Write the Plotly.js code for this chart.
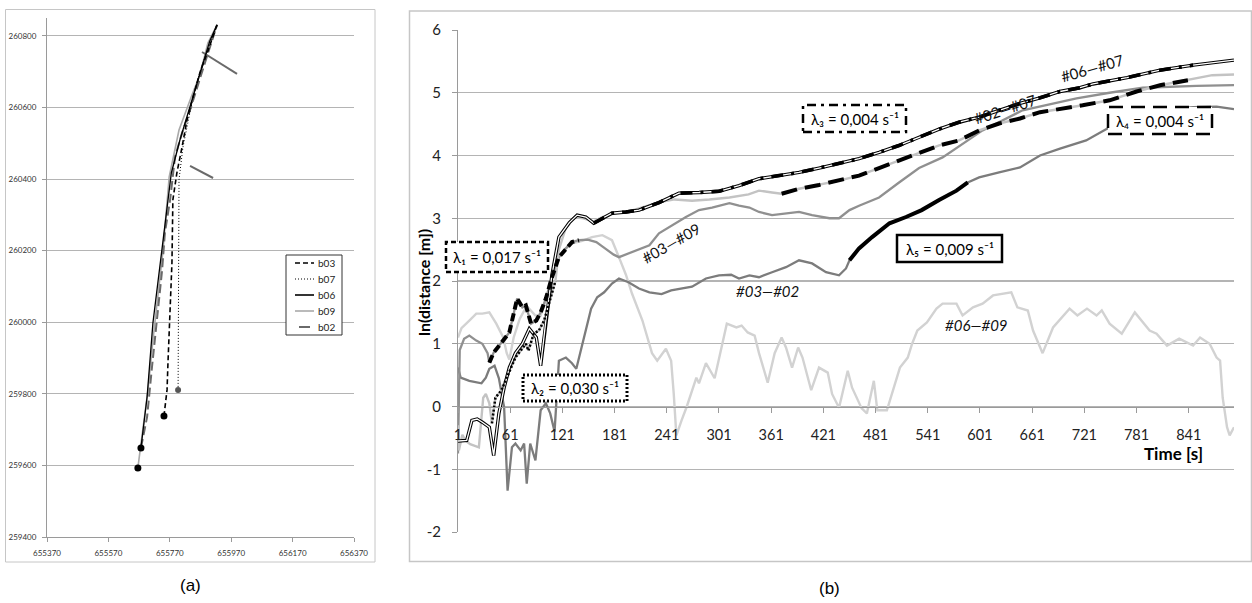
<!DOCTYPE html>
<html><head><meta charset="utf-8">
<script src="https://cdn.plot.ly/plotly-3.0.1.min.js"></script>
<style>html,body{margin:0;padding:0;background:#fff}#chart{width:1252px;height:603px}</style>
</head><body><div id="chart"></div>
<script>
// ================= (a) trajectories (Easting / Northing) =================
const a_xticks = [655370, 655570, 655770, 655970, 656170, 656370];
const a_yticks = [259400, 259600, 259800, 260000, 260200, 260400, 260600, 260800];
const b03_x = [655751,655761,655764,655771,655777,655780,655793,655810,655826,655846,655868,655895,655924];
const b03_y = [259738,259811,259886,260026,260166,260342,260417,260490,260565,260630,260697,260760,260831];
const b07_x = [655797,655798,655800,655813,655826,655842,655858,655875,655898,655924];
const b07_y = [259811,260100,260398,260490,260546,260613,260669,260719,260770,260831];
const b06_x = [655676,655696,655715,655731,655748,655775,655803,655836,655862,655878,655900,655924];
const b06_y = [259649,259791,259998,260110,260220,260417,260509,260602,260677,260727,260785,260831];
const b09_x = [655666,655683,655699,655715,655732,655748,655768,655800,655840,655868,655894,655924];
const b09_y = [259593,259699,259811,259950,260071,260202,260406,260537,260630,260691,260780,260831];
const b02_x = [655676,655696,655712,655728,655745,655754,655771,655787,655810,655836,655868,655890,655924];
const b02_y = [259649,259735,259875,260006,260146,260250,260342,260462,260529,260593,260677,260740,260831];
const b02o_x = [655875,655989,null,655836,655911];
const b02o_y = [260755,260694,null,260437,260403];
const start_x = [655666,655676,655751];
const start_y = [259593,259649,259738];
const start7_x = [655797];
const start7_y = [259811];

// ================= (b) ln(distance) vs time =================
const b_xticks = [1,61,121,181,241,301,361,421,481,541,601,661,721,781,841];
const b_yticks = [-2,-1,0,1,2,3,4,5,6];

const t0607 = [1,11,17,23,29,37,42,48,54,60,67,75,83,91,96,102,109,117,129,138,148,157,167,178,194,209,232,255,278,301,324,347,370,393,416,439,462,485,508,531,554,577,600,623,647,670,693,716,731,770,808,846,893];
const d0607 = [-0.55,-0.54,-0.22,-0.2,-0.25,-0.33,-0.78,-0.11,0.3,0.62,0.85,1.0,1.24,1.1,0.65,1.37,2.1,2.7,2.93,3.05,3.02,2.92,3.0,3.08,3.1,3.13,3.25,3.4,3.41,3.43,3.52,3.63,3.68,3.73,3.8,3.87,3.95,4.05,4.16,4.29,4.42,4.53,4.61,4.72,4.83,4.92,5.02,5.08,5.14,5.24,5.36,5.44,5.52];

const t0207 = [1,2,6,10,15,20,25,30,33,37,40,44,51,60,67,79,82,88,94,100,108,113,117,125,135,145,157,167,180,195,212,230,250,270,290,313,335,347,362,373,393,416,428,439,462,485,508,531,554,577,600,623,647,670,693,719,750,781,808,840,868,893];
const d0207 = [-0.3,-0.7,-0.45,-0.55,-0.6,-0.62,-0.65,0.14,0.2,0.05,-0.27,0.14,0.26,0.57,0.78,1.0,0.89,1.16,1.21,1.37,1.74,2.0,2.5,2.85,3.02,3.0,2.95,3.02,3.08,3.1,3.17,3.25,3.3,3.28,3.3,3.33,3.38,3.44,3.41,3.39,3.47,3.53,3.57,3.6,3.68,3.8,3.92,4.05,4.16,4.24,4.4,4.51,4.59,4.69,4.74,4.8,4.88,5.02,5.12,5.2,5.28,5.29];

const t0609 = [1,5,14,22,29,37,45,53,57,60,65,72,80,90,96,102,109,117,125,132,144,155,167,178,186,194,201,213,224,230,240,246,249,252,258,264,275,278,286,296,310,321,327,334,342,347,357,365,373,378,385,392,397,407,416,426,431,439,449,454,465,471,479,483,494,500,509,518,523,529,540,551,558,574,581,593,604,616,627,637,644,656,662,673,685,704,713,724,735,741,750,764,779,796,804,816,830,846,854,865,873,877,880,885,888,893];
const d0609 = [1.1,1.25,1.37,1.48,1.48,1.5,1.32,1.1,0.85,0.75,1.1,1.4,1.6,1.45,1.45,1.7,2.05,2.38,2.52,2.6,2.64,2.7,2.73,2.65,2.38,2.1,1.8,1.37,0.85,0.73,0.92,0.73,0.2,-0.46,-0.22,0.0,0.46,0.37,0.69,0.45,1.32,1.26,1.29,1.18,1.13,0.85,0.38,0.85,1.1,0.94,0.62,0.94,0.78,0.26,0.62,0.54,0.2,-0.02,0.57,0.3,-0.03,-0.11,0.41,-0.06,-0.06,0.2,0.62,0.78,1.0,1.21,1.34,1.56,1.64,1.64,1.45,1.58,1.64,1.77,1.8,1.82,1.58,1.53,1.21,0.85,1.26,1.56,1.45,1.56,1.45,1.53,1.32,1.16,1.5,1.21,1.16,0.97,1.08,0.97,1.1,1.0,0.78,0.73,0.14,-0.33,-0.46,-0.33];

const t0302 = [1,4,14,28,33,37,43,48,54,58,63,67,73,77,80,84,90,96,102,107,112,117,125,132,137,143,149,154,161,169,178,186,197,209,221,235,246,259,270,286,301,315,324,336,347,362,378,393,408,424,439,447,451,462,477,497,516,534,554,574,587,600,623,647,670,693,723,750,770,808,846,873,893];
const d0302 = [0.62,0.46,0.41,0.37,0.46,0.6,0.65,0.45,-0.01,-1.34,-0.65,-0.59,-0.7,-0.59,-1.23,-0.59,-0.86,-0.06,0.05,-0.11,-0.4,0.73,0.78,0.69,0.6,0.94,1.32,1.56,1.74,1.82,1.96,2.04,1.98,1.88,1.82,1.79,1.85,1.88,1.91,2.04,2.09,2.1,2.04,2.09,2.06,2.14,2.22,2.33,2.28,2.14,2.09,2.2,2.33,2.52,2.7,2.92,3.02,3.13,3.29,3.44,3.57,3.65,3.73,3.81,4.0,4.11,4.24,4.45,4.59,4.72,4.77,4.78,4.74];

const t0309 = [1,3,8,14,22,29,35,37,42,50,60,69,75,79,85,91,96,102,109,117,125,132,140,150,160,170,180,186,201,221,232,247,263,278,293,313,324,336,347,362,378,393,408,428,439,451,462,485,508,531,558,578,604,650,712,750,788,850,893];
const d0309 = [-0.75,0.9,1.08,1.13,1.05,1.0,0.85,0.7,0.86,1.0,1.18,1.72,1.58,1.61,1.32,1.37,1.5,1.72,2.06,2.38,2.52,2.62,2.65,2.66,2.62,2.52,2.42,2.38,2.46,2.57,2.76,2.89,3.02,3.13,3.17,3.24,3.2,3.17,3.1,3.05,3.08,3.1,3.05,3.0,3.0,3.13,3.2,3.33,3.57,3.8,3.97,4.16,4.4,4.72,4.91,5.0,5.08,5.11,5.12];

// fitted-rate segments (time windows on the curves)
const lam1 = [37, 140];   // on #03—#09
const lam2 = [40, 113];   // on #02—#07
const lam3 = [152, 853];  // on #06—#07
const lam4 = [373, 840];  // on #02—#07
const lam5 = [451, 587];  // on #03—#02

const labels = ['#06—#07','#02—#07','#03—#09','#03—#02','#06—#09'];
const lamText = ['λ₁ = 0,017 s⁻¹','λ₂ = 0,030 s⁻¹','λ₃ = 0,004 s⁻¹','λ₄ = 0,004 s⁻¹','λ₅ = 0,009 s⁻¹'];

// ---------------- helpers ----------------
const W = 1252, H = 603;
const PX = p => p / W, PY = p => 1 - p / H;
function seg(xs, ys, r) {
  const ox = [], oy = [];
  xs.forEach((x, i) => { if (x >= r[0] && x <= r[1]) { ox.push(x); oy.push(ys[i]); } });
  return [ox, oy];
}
const FONT = 'Lato, "Open Sans", "DejaVu Sans", sans-serif';

const traces = [];
function addA(x, y, color, width, dash) {
  traces.push({x, y, type: 'scatter', mode: 'lines', xaxis: 'x', yaxis: 'y', showlegend: false,
    line: {color, width, dash}, hoverinfo: 'skip'});
}
addA(b09_x, b09_y, '#a9a9a9', 1.6, 'solid');
addA(b02_x, b02_y, '#6a6a6a', 2, '9px,4px');
addA(b02o_x, b02o_y, '#6a6a6a', 2, 'solid');
addA(b06_x, b06_y, '#000000', 1.3, 'solid');
addA(b03_x, b03_y, '#000000', 1.6, '5px,3px');
addA(b07_x, b07_y, '#000000', 1, '1px,2px');
traces.push({x: start_x, y: start_y, type: 'scatter', mode: 'markers', xaxis: 'x', yaxis: 'y', showlegend: false,
  marker: {color: '#000', size: 7}, hoverinfo: 'skip'});
traces.push({x: start7_x, y: start7_y, type: 'scatter', mode: 'markers', xaxis: 'x', yaxis: 'y', showlegend: false,
  marker: {color: '#555', size: 6}, hoverinfo: 'skip'});

function addB(x, y, color, width, dash) {
  traces.push({x, y, type: 'scatter', mode: 'lines', xaxis: 'x2', yaxis: 'y2', showlegend: false,
    line: {color, width, dash: dash || 'solid'}, hoverinfo: 'skip'});
}
addB(t0609, d0609, '#d2d2d2', 2.4);
addB(t0302, d0302, '#7c7c7c', 2.3);
addB(t0309, d0309, '#909090', 2.3);
addB(t0207, d0207, '#c3c3c3', 2.4);
addB(t0607, d0607, '#000000', 3.4);
addB(t0607, d0607, '#ffffff', 1.3);
let s;
s = seg(t0309, d0309, lam1); addB(s[0], s[1], '#000', 4, '8px,4px');
s = seg(t0207, d0207, lam2); addB(s[0], s[1], '#000', 2.5, '2px,2px');
s = seg(t0607, d0607, lam3); addB(s[0], s[1], '#000', 3.6, '12px,8px,3px,8px');
s = seg(t0207, d0207, lam4); addB(s[0], s[1], '#000', 4, '16px,8px');
s = seg(t0302, d0302, lam5); addB(s[0], s[1], '#000', 4);

// ---------------- shapes & annotations ----------------
const shapes = [
  {type: 'rect', xref: 'paper', yref: 'paper', x0: PX(5.5), x1: PX(375), y0: PY(562), y1: PY(9.5), line: {color: '#c6c6c6', width: 1}, layer: 'below'},
  {type: 'rect', xref: 'paper', yref: 'paper', x0: PX(409.5), x1: PX(1251.5), y0: PY(561.5), y1: PY(11), line: {color: '#c6c6c6', width: 1.5}, layer: 'below'},
  // legend box (a)
  {type: 'rect', xref: 'paper', yref: 'paper', x0: PX(286), x1: PX(342), y0: PY(335), y1: PY(255), line: {color: '#333', width: 1}, fillcolor: '#fff', layer: 'above'}
];
const legItems = [['b03', '#000', 1.6, '5px,3px'], ['b07', '#000', 1, '1px,2px'], ['b06', '#000', 1.6, 'solid'], ['b09', '#a9a9a9', 1.6, 'solid'], ['b02', '#6a6a6a', 2, 'solid']];
const legY = [263, 279, 295, 311, 327];
const annotations = [];
legItems.forEach((it, i) => {
  const x0 = it[0] === 'b02' ? 299 : 295;
  const x1 = it[0] === 'b02' ? 310 : 314;
  shapes.push({type: 'line', xref: 'paper', yref: 'paper', x0: PX(x0), x1: PX(x1), y0: PY(legY[i]), y1: PY(legY[i]), line: {color: it[1], width: it[2], dash: it[3]}, layer: 'above'});
  annotations.push({xref: 'paper', yref: 'paper', x: PX(316), y: PY(legY[i]), xanchor: 'left', yanchor: 'middle', showarrow: false, text: it[0], font: {family: FONT, size: 10, color: '#222'}});
});
// rate boxes
const boxes = [
  [446, 548, 242, 272, '5px,3px', 2.5, 497, 257],
  [523, 627, 375, 401, '2px,2px', 3, 575, 388],
  [803, 906, 105, 132, '9px,5px,3px,5px', 2.5, 855, 119],
  [1108, 1212, 107, 134, '14px,8px', 2.5, 1160, 121],
  [897, 1002, 235, 262, 'solid', 2.5, 950, 249]
];
boxes.forEach((b, i) => {
  shapes.push({type: 'rect', xref: 'paper', yref: 'paper', x0: PX(b[0]), x1: PX(b[1]), y0: PY(b[3]), y1: PY(b[2]),
    line: {color: '#000', width: b[5], dash: b[4]}, fillcolor: '#fff', layer: 'above'});
  annotations.push({xref: 'paper', yref: 'paper', x: PX(b[6]), y: PY(b[7]), xanchor: 'center', yanchor: 'middle', showarrow: false,
    text: lamText[i], font: {family: FONT, size: 15, color: '#000'}});
});
// curve labels
const labPos = [[1092, 68, -16, 'normal'], [1005, 109, -18, 'normal'], [671, 243, -30, 'normal'], [767, 291, 0, 'italic'], [976, 325, 0, 'italic']];
labels.forEach((t, i) => {
  const p = labPos[i];
  annotations.push({xref: 'paper', yref: 'paper', x: PX(p[0]), y: PY(p[1]), xanchor: 'center', yanchor: 'middle', showarrow: false,
    text: t, textangle: p[2], font: {family: FONT, size: 15, color: '#111', style: p[3]}});
});
annotations.push({xref: 'paper', yref: 'paper', x: PX(1173), y: PY(453), xanchor: 'center', yanchor: 'middle', showarrow: false,
  text: 'Time [s]', font: {family: FONT, size: 17, color: '#000', weight: 'bold'}});
annotations.push({xref: 'paper', yref: 'paper', x: PX(423), y: PY(282), xanchor: 'center', yanchor: 'middle', showarrow: false,
  text: 'ln(distance [m])', textangle: -90, font: {family: FONT, size: 16, color: '#000', weight: 'bold'}});
annotations.push({xref: 'paper', yref: 'paper', x: PX(190), y: PY(585), xanchor: 'center', yanchor: 'middle', showarrow: false,
  text: '(a)', font: {family: '"Liberation Sans", Arial, sans-serif', size: 17, color: '#000'}});
annotations.push({xref: 'paper', yref: 'paper', x: PX(829), y: PY(588), xanchor: 'center', yanchor: 'middle', showarrow: false,
  text: '(b)', font: {family: '"Liberation Sans", Arial, sans-serif', size: 17, color: '#000'}});

const axLine = '#9a9a9a', grid = '#b4b4b4';
const layout = {
  width: W, height: H, margin: {l: 0, r: 0, t: 0, b: 0}, paper_bgcolor: '#fff', plot_bgcolor: 'rgba(0,0,0,0)',
  showlegend: false,
  xaxis: {domain: [PX(47), PX(354)], range: [655370, 656370], tickvals: a_xticks, ticktext: a_xticks.map(String),
    showgrid: false, zeroline: false, showline: true, linecolor: axLine, ticks: 'outside', ticklen: 4, tickcolor: axLine,
    tickfont: {family: FONT, size: 8, color: '#333'}, ticklabelstandoff: 4, anchor: 'y', fixedrange: true},
  yaxis: {domain: [PY(537), PY(18)], range: [259400, 260850], tickvals: a_yticks, ticktext: a_yticks.map(String),
    showgrid: true, gridcolor: grid, zeroline: false, showline: true, linecolor: axLine, ticks: 'outside', ticklen: 4, tickcolor: axLine,
    tickfont: {family: FONT, size: 8, color: '#333'}, ticklabelstandoff: 4, anchor: 'x', fixedrange: true},
  xaxis2: {domain: [PX(458), PX(1234)], range: [1, 893], tickvals: b_xticks, ticktext: b_xticks.map(String),
    showgrid: false, zeroline: false, showline: true, linecolor: axLine, linewidth: 1.3, ticks: 'outside', ticklen: 5, tickcolor: axLine,
    tickfont: {family: FONT, size: 14.5, color: '#222'}, ticklabelstandoff: 10, anchor: 'free', position: PY(406.5), fixedrange: true},
  yaxis2: {domain: [PY(532), PY(30)], range: [-2, 6], tickvals: b_yticks, ticktext: b_yticks.map(String),
    showgrid: true, gridcolor: grid, gridwidth: 1.2, zeroline: false, showline: true, linecolor: axLine, ticks: 'outside', ticklen: 5, tickcolor: axLine,
    tickfont: {family: FONT, size: 15, color: '#222'}, ticklabelstandoff: 8, anchor: 'x2', fixedrange: true},
  shapes, annotations
};
Plotly.newPlot('chart', traces, layout, {staticPlot: true, displayModeBar: false});
</script></body></html>
